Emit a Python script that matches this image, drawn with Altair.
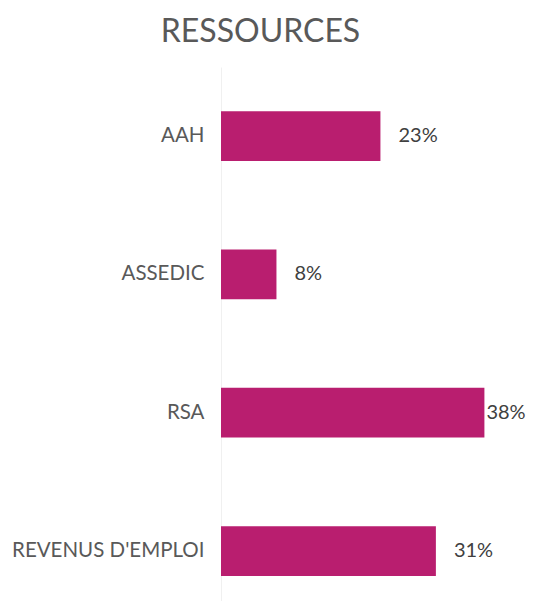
import altair as alt
import pandas as pd

categories = ["AAH", "ASSEDIC", "RSA", "REVENUS D'EMPLOI"]
values = [23, 8, 38, 31]
labels = ["23%", "8%", "38%", "31%"]

df = pd.DataFrame({"cat": categories, "val": values, "label": labels})

FONT = "Lato"
y_enc = alt.Y("cat:N", sort=categories,
              scale=alt.Scale(paddingInner=0.64, paddingOuter=0.25, align=0.638),
              axis=alt.Axis(title=None, ticks=False, domainColor="#F0F0F0", domainWidth=1,
                            labelFont=FONT, labelFontSize=20.5, labelColor="#595959",
                            labelPadding=17, labelLimit=400, grid=False))
x_enc = alt.X("val:Q", scale=alt.Scale(domain=[0, 44], nice=False), axis=None)

bars = alt.Chart(df).mark_bar(color="#B91E6F").encode(x=x_enc, y=y_enc)

text_small = alt.Chart(df).transform_filter("datum.val < 35").mark_text(
    align="left", baseline="middle", dx=18, font=FONT, fontSize=20, color="#404040"
).encode(x=x_enc, y=y_enc, text="label:N")

text_big = alt.Chart(df).transform_filter("datum.val >= 35").mark_text(
    align="left", baseline="middle", dx=2, font=FONT, fontSize=20, color="#404040"
).encode(x=x_enc, y=y_enc, text="label:N")

chart = alt.layer(bars, text_small, text_big).properties(
    width=305, height=534,
    title=alt.TitleParams("RESSOURCES", font=FONT, fontSize=32, fontWeight="normal",
                          color="#595959", anchor="middle", frame="group", dx=-113,
                          dy=32, baseline="alphabetic", offset=25),
    autosize=alt.AutoSizeParams(type="none"),
    padding={"left": 213, "top": 59, "right": 0, "bottom": 0},
).configure_view(stroke=None)

chart.save("out.html", embed_options={"renderer": "svg", "actions": False})
